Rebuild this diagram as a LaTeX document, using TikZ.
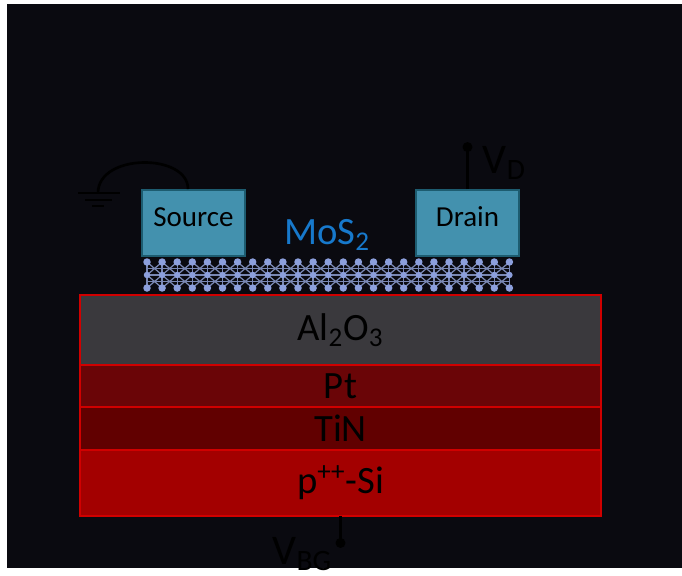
\documentclass[tikz,border=0pt]{standalone}
\usepackage{fontspec}
\setmainfont{Carlito}
\usetikzlibrary{positioning}
\definecolor{bgcolor}{HTML}{0A0A10}
\definecolor{oxcolor}{HTML}{3A393D}
\definecolor{ptcolor}{HTML}{6A0507}
\definecolor{tincolor}{HTML}{610000}
\definecolor{sicolor}{HTML}{A30000}
\definecolor{edgecolor}{HTML}{D00000}
\definecolor{padcolor}{HTML}{4391AE}
\definecolor{padedge}{HTML}{1D5C70}
\definecolor{moscolor}{HTML}{1779CC}
\definecolor{atomcolor}{HTML}{8C9FDC}
\definecolor{bondcolor}{HTML}{7A88B4}

\begin{document}
\begin{tikzpicture}[
    x=0.02cm, y=-0.02cm,
    layer/.style={draw=edgecolor, line width=1.1pt, minimum width=10.42cm,
                  outer sep=0pt, inner sep=0pt, text=black,
                  font=\fontsize{22}{26}\selectfont},
    contact/.style={draw=padedge, fill=padcolor, line width=1.1pt,
                    minimum width=2.06cm, minimum height=1.32cm, inner sep=0pt,
                    text depth=0.24cm, text=black, font=\fontsize{16.5}{19}\selectfont},
    wire/.style={line width=1.5pt, black},
    bond/.style={bondcolor, line width=0.7pt},
    lbl/.style={inner sep=0pt, text=black, font=\fontsize{24}{28}\selectfont}
]
\useasboundingbox (0,0) rectangle (682,575);
\fill[white] (0,0) rectangle (682,575);
\fill[bgcolor] (7,4) rectangle (682,568);

% Gate stack
\node[layer, fill=oxcolor, minimum height=1.4cm] (al2o3) at (340.5,330) {Al\textsubscript{2}O\textsubscript{3}};
\node[layer, fill=ptcolor,  minimum height=0.84cm, below=0pt of al2o3] (pt)  {Pt};
\node[layer, fill=tincolor, minimum height=0.86cm, below=0pt of pt]    (tin) {TiN};
\node[layer, fill=sicolor,  minimum height=1.32cm, below=0pt of tin]   (si)  {p\textsuperscript{++}-Si};

% MoS2 channel: S-Mo-S lattice
\foreach \i in {0,...,24} {
  \pgfmathsetmacro{\xa}{147+15.1*\i}
  \draw[bond] (\xa,262) -- (\xa,290);
}
\foreach \i in {0,...,23} {
  \pgfmathsetmacro{\xa}{147+15.1*\i}
  \pgfmathsetmacro{\xb}{\xa+15.1}
  \draw[bond] (\xa,262) -- (\xb,275) (\xb,262) -- (\xa,275)
              (\xa,275) -- (\xb,288) (\xb,275) -- (\xa,288);
}
\draw[bond] (147,268.5) -- (509.4,268.5) (147,275) -- (509.4,275) (147,281.5) -- (509.4,281.5);
\foreach \i in {0,...,24} {
  \pgfmathsetmacro{\xa}{147+15.1*\i}
  \fill[atomcolor] (\xa,262) circle (0.075cm) (\xa,275) circle (0.065cm) (\xa,288) circle (0.075cm);
}

% Contacts
\node[contact] (source) at (193.5,223) {Source};
\node[contact] (drain)  at (467.5,223) {Drain};
\node[inner sep=0pt, text=moscolor, font=\fontsize{22}{26}\selectfont] (mos2) at (327,235) {MoS\textsubscript{2}};

% Source to ground
\coordinate (gnd) at (98,193);
\draw[wire] ([xshift=-0.11cm]source.north) .. controls (188,153) and (98,153) .. (gnd);
\draw[wire] (gnd) ++(-20,0) -- ++(42,0);
\draw[wire] (gnd) ++(-13,7) -- ++(27,0);
\draw[wire] (gnd) ++(-6,13) -- ++(12,0);

% Drain bias
\coordinate (vd) at ([yshift=0.84cm]drain.north);
\draw[wire] (drain.north) -- (vd);
\fill (vd) circle (0.1cm);
\node[lbl, anchor=west] (vdlbl) at ([xshift=0.3cm, yshift=-0.32cm]vd) {V\textsubscript{D}};

% Back gate bias
\coordinate (vbg) at ([yshift=-0.54cm]si.south);
\draw[wire] (si.south) -- (vbg);
\fill (vbg) circle (0.1cm);
\node[lbl, anchor=north east] (vbglbl) at ([xshift=-0.16cm, yshift=0.12cm]vbg) {V\textsubscript{BG}};
\end{tikzpicture}
\end{document}
